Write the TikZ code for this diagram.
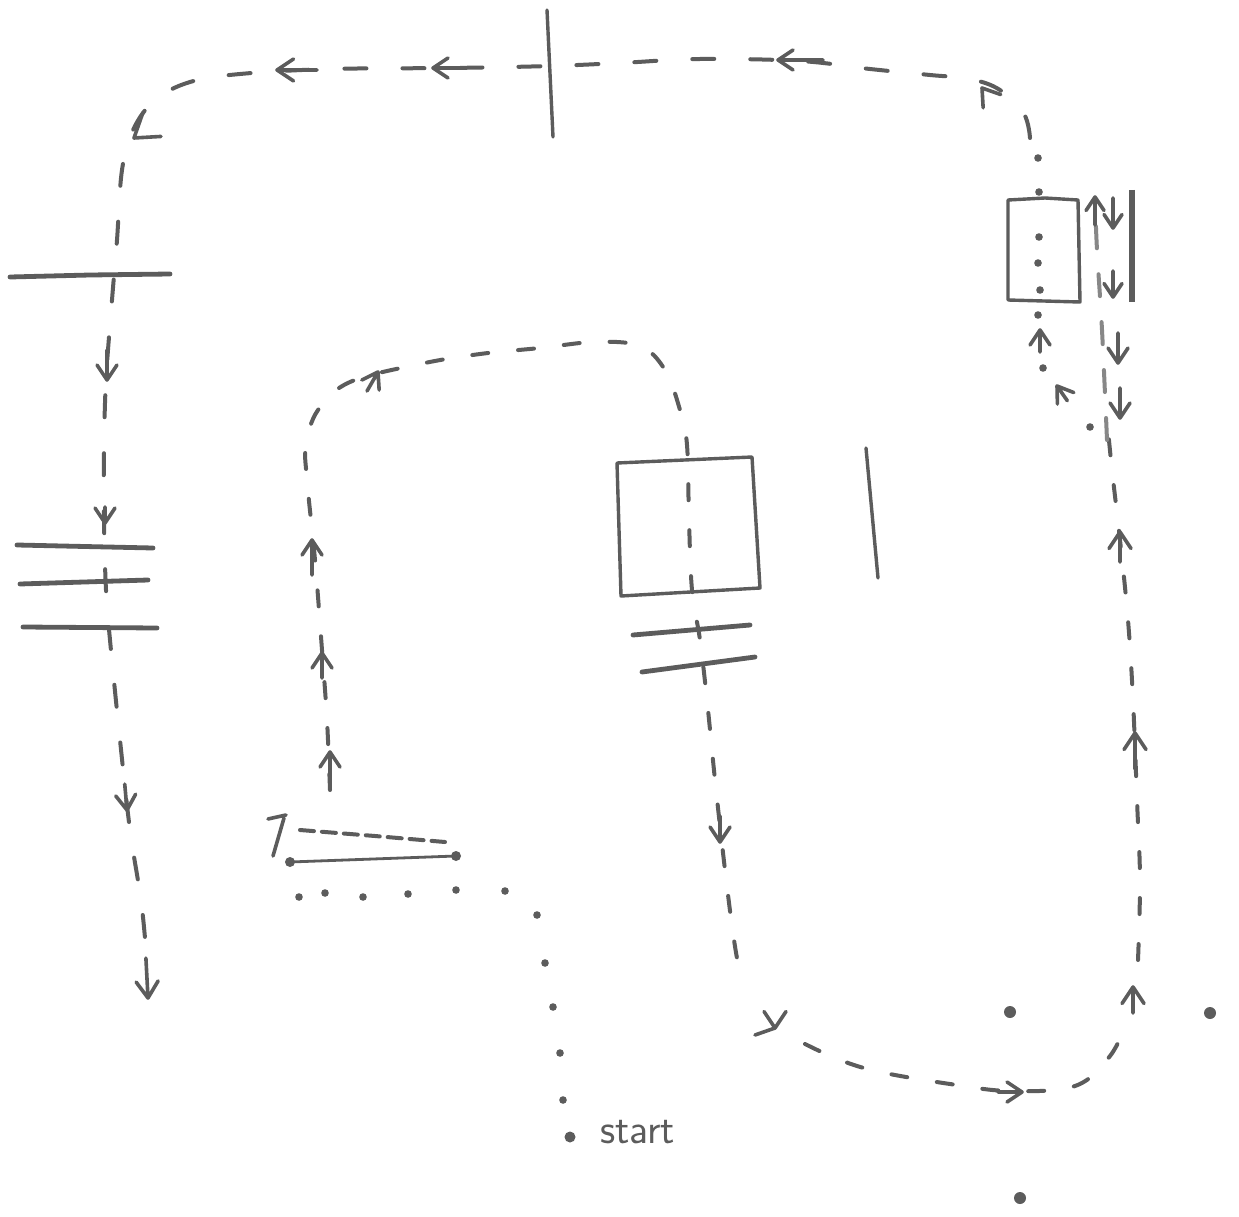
\documentclass[tikz,border=0pt]{standalone}
\definecolor{pencil}{RGB}{92,92,92}
\definecolor{lightpencil}{RGB}{135,135,135}
\tikzset{
  rayA/.style={draw=pencil, line width=4pt, line cap=round, dash pattern=on 22pt off 36pt},
  rayB/.style={draw=pencil, line width=4pt, line cap=round, dash pattern=on 16pt off 30pt},
  rayC/.style={draw=lightpencil, line width=4pt, line cap=round, dash pattern=on 22pt off 26pt},
  arr/.style={draw=pencil, line width=3.6pt, line cap=round, line join=round},
  optic/.style={draw=pencil, line width=4.8pt, line cap=round},
  thin/.style={draw=pencil, line width=3.4pt, line cap=round},
  frame/.style={draw=pencil, line width=3.4pt, line join=round},
  lbl/.style={text=pencil, font=\sffamily\fontsize{42}{46}\selectfont, inner sep=0pt},
}
% tip x, tip y, rotation, stem length, arm scale
\newcommand{\chv}[5]{\draw[arr,shift={(#1,#2)},rotate=#3] (-10*#5,-15*#5)--(0,0)--(10*#5,-15*#5) (0,0)--(0,-#4);}
\begin{document}
\begin{tikzpicture}[x=1pt,y=-1pt]
\useasboundingbox (0,0) rectangle (1239,1217);
\fill[white] (0,0) rectangle (1239,1217);

% ---------- optical elements ----------
\draw[thin] (547,10) -- (553,137);
\draw[optic] (10,277) -- (90,275) -- (170,274);
\draw[optic] (17,545) -- (153,548);
\draw[optic] (20,584) -- (148,580);
\draw[optic] (23,627) -- (157,628);
\draw[frame] (617,463) -- (752,457) -- (760,588) -- (621,596) -- cycle;
\draw[optic] (633,635) -- (750,625);
\draw[optic] (642,672) -- (755,657);
\draw[thin] (866,448) -- (878,578);
\draw[frame] (1008,200) -- (1045,198) -- (1078,200) -- (1080,302) -- (1008,300) -- cycle;
\draw[pencil, line width=6.5pt] (1132,190) -- (1132,302);
\draw[thin, line width=2.8pt] (290,862) -- (456,856);
\fill[pencil] (290,862) circle[radius=5pt] (456,856) circle[radius=5pt];

% ---------- path A (top / left) ----------
\draw[rayA] plot[smooth, tension=0.6] coordinates {(1030,138) (1024,114) (1000,90) (970,79) (930,75) (870,69) (800,61) (700,59) (620,63) (550,66) (450,68) (330,69) (240,74) (190,82) (155,100) (133,130) (122,170) (117,240) (112,300) (106,380) (104,450) (104,520) (106,590) (110,640) (120,740) (130,830) (141,900) (146,950)};
\foreach \p in {(1090,427),(1043,368),(1038,315),(1040,290),(1038,263),(1039,237),(1039,192),(1038,158)}
  \fill[pencil] \p circle[radius=3.8pt];
\chv{1057}{386}{215}{18}{1}
\chv{1040}{330}{180}{22}{1}
\chv{982}{88}{217}{0}{1.1}
\chv{778}{60}{270}{45}{1}
\chv{433}{68}{270}{30}{1}
\chv{277}{70}{270}{40}{1.1}
\chv{134}{138}{-53}{0}{1.5}
\chv{107}{380}{0}{30}{1}
\chv{105}{523}{0}{16}{1}
\chv{127}{810}{5}{26}{1}
\chv{148}{998}{3}{40}{1.1}

% ---------- path B (middle loop) ----------
\draw[rayB] plot[smooth, tension=0.6] coordinates {(330,790) (327,720) (322,650) (315,560) (307,480) (306,445) (318,410) (350,382) (420,364) (480,354) (540,348) (595,342) (640,346) (665,370) (680,410) (687,445) (689,520) (692,590) (700,640) (707,700) (715,780) (725,870) (734,940) (742,985)};
\draw[rayB] plot[smooth, tension=0.6] coordinates {(805,1044) (840,1060) (880,1072) (950,1084) (1010,1091) (1075,1086) (1110,1056) (1128,1020)};
\draw[rayB] plot[smooth, tension=0.6] coordinates {(1138,960) (1140,880) (1137,800) (1133,700) (1128,620) (1120,540) (1112,470) (1107,420)};
\draw[rayC] plot[smooth, tension=0.6] coordinates {(1107,440) (1102,330) (1097,250) (1095,200)};
\draw[arr] (268,819) -- (286,815) (284,818) -- (273,856);
\draw[rayB, dash pattern=on 14pt off 8pt] (300,830) -- (375,836) -- (445,842);
\chv{330}{752}{180}{36}{1}
\chv{322}{653}{180}{25}{1}
\chv{312}{540}{180}{35}{1}
\chv{378}{372}{150}{22}{1}
\chv{720}{842}{0}{26}{1}
\chv{775}{1028}{0}{0}{1.1}
\draw[arr] (755,1035) -- (775,1028);
\chv{1022}{1092}{90}{24}{1}
\chv{1133}{987}{180}{26}{1.1}
\chv{1135}{733}{180}{36}{1.1}
\chv{1120}{532}{180}{30}{1.1}
\chv{1095}{197}{180}{28}{0.9}
\chv{1113}{228}{0}{30}{0.9}
\chv{1113}{297}{0}{26}{0.9}
\chv{1118}{363}{0}{30}{1}
\chv{1120}{418}{0}{30}{1}

% ---------- dotted path from start ----------
\foreach \p in {(563,1100),(560,1053),(553,1007),(545,963),(537,915),(505,891),(456,890),(408,894),(363,897),(325,893),(299,897)}
  \fill[pencil] \p circle[radius=3.8pt];
\fill[pencil] (570,1137) circle[radius=5.5pt];
\node[lbl, anchor=base west] (startlbl) at (600,1143) {start};

% ---------- isolated dots ----------
\fill[pencil] (1010,1012) circle[radius=6pt];
\fill[pencil] (1210,1013) circle[radius=6pt];
\fill[pencil] (1020,1198) circle[radius=6pt];
\end{tikzpicture}
\end{document}
